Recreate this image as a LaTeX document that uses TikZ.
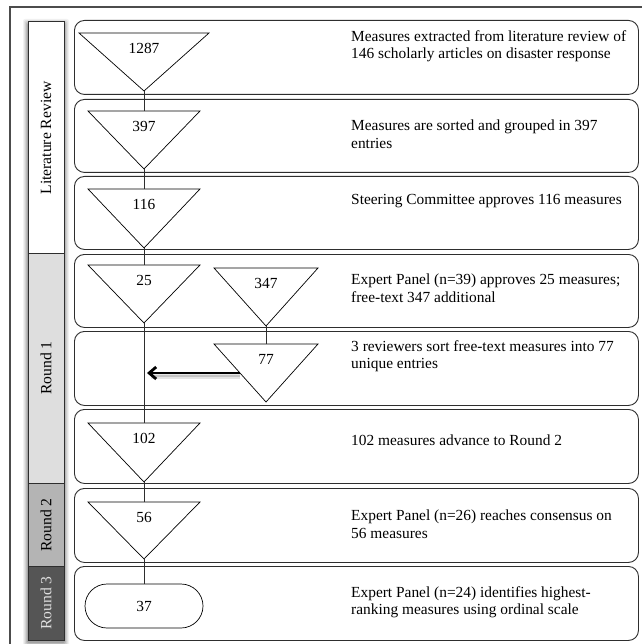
\documentclass[tikz,border=0pt]{standalone}
\usepackage{fontspec}
\setmainfont{Liberation Serif}
\usetikzlibrary{arrows.meta,shapes.geometric}
\definecolor{lineC}{HTML}{2E2E2E}
\definecolor{roundA}{HTML}{DEDEDE}
\definecolor{roundB}{HTML}{B4B4B4}
\definecolor{roundC}{HTML}{555555}
\tikzset{
  rowbox/.style={draw=lineC, line width=0.9pt, rounded corners=10pt, inner sep=0pt, anchor=north west},
  tri/.style={draw=black, line width=0.7pt},
  conn/.style={draw=lineC, line width=0.9pt},
  num/.style={font=\fontsize{15.4}{17}\selectfont, inner sep=0pt},
  desc/.style={font=\fontsize{15.4}{17.5}\selectfont, align=left, inner sep=0pt, anchor=north west},
  side/.style={draw=lineC, line width=1pt},
  sidelabel/.style={font=\fontsize{15.6}{17}\selectfont, rotate=90, inner sep=0pt},
}
\newcommand\tri[6]{%
  \draw[tri] (#2-#4,#3) -- (#2+#4,#3) -- (#2,#3+#5) -- cycle;
  \coordinate (#1top) at (#2,#3);
  \coordinate (#1apex) at (#2,#3+#5);
  \node[num] (#1) at (#2,#3+15) {#6};
}
\begin{document}
\begin{tikzpicture}[x=1pt,y=-1pt]
\useasboundingbox (0,0) rectangle (641,644);
\fill[white] (0,0) rectangle (641,644);
% outer frame
\draw[draw=black!70, line width=1.4pt] (10,7) rectangle (660,660);
% sidebar shadow
\foreach \d/\o in {5/0.05,4/0.06,3/0.08,2/0.10,1/0.12}{
  \fill[black, opacity=\o, rounded corners=2pt] (28-\d,22-\d+2) rectangle (64+\d,640+\d+2);
}
% sidebar
\fill[white] (28,22) rectangle (64,253);
\fill[roundA] (28,253) rectangle (64,483);
\fill[roundB] (28,483) rectangle (64,566);
\fill[roundC] (28,566) rectangle (64,640);
\draw[side] (28,22) rectangle (64,640);
\draw[side] (28,253) -- (64,253);
\draw[side] (28,483) -- (64,483);
\draw[side] (28,566) -- (64,566);
\node[sidelabel] (s0) at (46,138) {Literature Review};
\node[sidelabel] (s1) at (46,368) {Round 1};
\node[sidelabel] (s2) at (46,525) {Round 2};
\node[sidelabel, text=black!12] (s3) at (46,603) {Round 3};
% rows
\node[rowbox, minimum width=564pt, minimum height=74pt] (r1) at (74,20) {};
\node[rowbox, minimum width=564pt, minimum height=73pt] (r2) at (74,99) {};
\node[rowbox, minimum width=564pt, minimum height=73pt] (r3) at (74,176) {};
\node[rowbox, minimum width=564pt, minimum height=73pt] (r4) at (74,254) {};
\node[rowbox, minimum width=564pt, minimum height=74pt] (r5) at (74,331) {};
\node[rowbox, minimum width=564pt, minimum height=74pt] (r6) at (74,409) {};
\node[rowbox, minimum width=564pt, minimum height=74pt] (r7) at (74,488) {};
\node[rowbox, minimum width=564pt, minimum height=74pt] (r8) at (74,566) {};
% triangles
\tri{t1}{144}{33}{65}{58}{1287}
\tri{t2}{144}{111}{56}{58}{397}
\tri{t3}{144}{189}{56}{59}{116}
\tri{t4}{144}{265}{56}{58}{25}
\tri{t5}{266}{268}{52}{58}{347}
\tri{t6}{266}{344}{52}{58}{77}
\tri{t7}{144}{423}{56}{59}{102}
\tri{t8}{144}{502}{56}{57}{56}
\node[draw=black, line width=0.7pt, rounded corners=22pt, minimum width=118pt, minimum height=44pt, inner sep=0pt, font=\fontsize{15.4}{17}\selectfont] (t9) at (144,606) {37};
% connectors
\draw[conn] (t1apex) -- (t2top);
\draw[conn] (t2apex) -- (t3top);
\draw[conn] (t3apex) -- (t4top);
\draw[conn] (t4apex) -- (t7top);
\draw[conn] (t5apex) -- (t6top);
\draw[conn] (t7apex) -- (t8top);
\draw[conn] (t8apex) -- (t9.north);
% arrow from 77 to main line
\coordinate (a0) at (240,373);
\coordinate (a1) at (147,373);
\draw[black, opacity=0.10, line width=5pt] (240,376.5) -- (151,376.5);
\draw[black, opacity=0.14, line width=2.5pt] (240,376) -- (151,376);
\draw[black, line width=1.4pt, -{Straight Barb[length=7pt,width=12pt,line width=2.8pt]}] (a0) -- (a1);
% descriptions
\node[desc] (d1) at (351,30) {Measures extracted from literature review of\\146 scholarly articles on disaster response};
\node[desc] (d2) at (351,120) {Measures are sorted and grouped in 397\\entries};
\node[desc] (d3) at (351,194) {Steering Committee approves 116 measures};
\node[desc] (d4) at (351,274) {Expert Panel (n=39) approves 25 measures;\\free-text 347 additional};
\node[desc] (d5) at (351,340) {3 reviewers sort free-text measures into 77\\unique entries};
\node[desc] (d6) at (351,435) {102 measures advance to Round 2};
\node[desc] (d7) at (351,510) {Expert Panel (n=26) reaches consensus on\\56 measures};
\node[desc] (d8) at (351,586) {Expert Panel (n=24) identifies highest-\\ranking measures using ordinal scale};
\end{tikzpicture}
\end{document}
